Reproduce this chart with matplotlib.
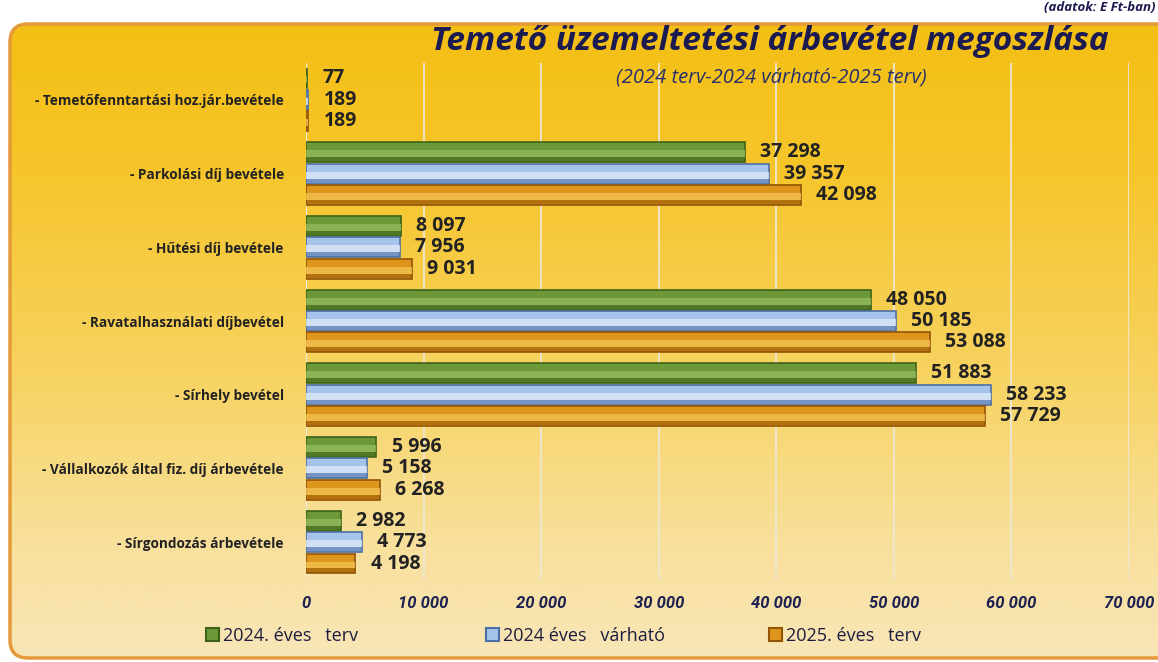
import numpy as np
import matplotlib
matplotlib.use("Agg")
import matplotlib.pyplot as plt
from matplotlib.patches import FancyBboxPatch, Patch
from matplotlib.colors import LinearSegmentedColormap

categories = [
    "- Temetőfenntartási hoz.jár.bevétele",
    "- Parkolási díj bevétele",
    "- Hűtési díj bevétele",
    "- Ravatalhasználati díjbevétel",
    "- Sírhely bevétel",
    "- Vállalkozók által fiz. díj árbevétele",
    "- Sírgondozás árbevétele",
]
series_names = ["2024. éves   terv", "2024 éves   várható", "2025. éves   terv"]
plan_2024 = [77, 37298, 8097, 48050, 51883, 5996, 2982]
expected_2024 = [189, 39357, 7956, 50185, 58233, 5158, 4773]
plan_2025 = [189, 42098, 9031, 53088, 57729, 6268, 4198]
x_ticks = [0, 10000, 20000, 30000, 40000, 50000, 60000, 70000]

title = "Temető üzemeltetési árbevétel megoszlása"
subtitle = "(2024 terv-2024 várható-2025 terv)"
note = "(adatok: E Ft-ban)"

FONT = ["Open Sans", "DejaVu Sans"]
TICKFONT = ["Roboto", "DejaVu Sans"]
plt.rcParams["font.family"] = FONT

W, H = 1158, 662
fig = plt.figure(figsize=(W / 100, H / 100), dpi=100)
fig.patch.set_facecolor("white")

# background panel with gradient
bg = fig.add_axes([0, 0, 1, 1])
bg.set_xlim(0, W)
bg.set_ylim(H, 0)
bg.axis("off")
cmap = LinearSegmentedColormap.from_list(
    "bgc", [(0.0, "#F4BE10"), (0.25, "#F6C52A"), (0.55, "#F7D25E"), (0.8, "#F8DF98"), (1.0, "#F8E6B8")]
)
grad = np.linspace(0, 1, 256).reshape(-1, 1)
im = bg.imshow(grad, cmap=cmap, aspect="auto", extent=[0, W, H, 0], zorder=0)
panel = FancyBboxPatch((10, 24), 1180, 634, boxstyle="round,pad=0,rounding_size=18",
                       fc="none", ec="#E49A3A", lw=2.5, zorder=2)
bg.add_patch(panel)
im.set_clip_path(panel)

# main axes
top, bottom = 63, 579
left, right = 306, 1129
ax = fig.add_axes([left / W, (H - bottom) / H, (right - left) / W, (bottom - top) / H])
ax.set_facecolor("none")

n = len(categories)
y = np.arange(n)
off = 0.29
h = 0.27
specs = [
    (plan_2024, -off, "#3E6218", "#6C9838", "#93BA5E"),
    (expected_2024, 0.0, "#4C6FA6", "#A6C3EA", "#DCE8F8"),
    (plan_2025, off, "#935406", "#DE951C", "#F3C253"),
]
for vals, o, dark, mid, light in specs:
    ax.barh(y + o, vals, height=h, color=mid, edgecolor=dark, linewidth=1.2, zorder=3)
    ax.barh(y + o + 0.02, vals, height=h * 0.35, color=light, linewidth=0, zorder=4, alpha=0.8)
    ax.barh(y + o + h * 0.36, vals, height=h * 0.22, color=dark, linewidth=0, zorder=4, alpha=0.55)
    for yi, v in zip(y + o, vals):
        ax.annotate(f"{v:,}".replace(",", " "), xy=(v, yi), xytext=(11, 0),
                    textcoords="offset points", va="center", ha="left",
                    fontsize=14, fontweight="bold", color="#222222", zorder=5,
                    family=FONT)

ax.set_xlim(0, 70000)
ax.set_ylim(n - 0.5, -0.5)
ax.set_xticks(x_ticks)
ax.set_xticklabels([f"{t:,}".replace(",", " ") for t in x_ticks],
                   fontsize=12, fontweight="bold", fontstyle="italic", color="#1C2152",
                   family=TICKFONT)
ax.set_yticks(y)
ax.set_yticklabels(categories, fontsize=9.8, fontweight="bold", color="#222222")
ax.tick_params(axis="both", length=0)
ax.tick_params(axis="y", pad=16)
ax.tick_params(axis="x", pad=12)
for s in ax.spines.values():
    s.set_visible(False)
ax.set_axisbelow(True)
ax.xaxis.grid(True, color="#EEE6D2", linewidth=1.3)
ax.axvline(0, color="#F2ECDD", linewidth=1.6, zorder=2)

# titles
fig.text(770 / W, 1 - 41 / H, title, ha="center", va="center", fontsize=24,
         fontweight="bold", fontstyle="italic", color="#1B1B52", family=FONT)
fig.text(771 / W, 1 - 78 / H, subtitle, ha="center", va="center", fontsize=14.5,
         fontstyle="italic", color="#26306A", family=FONT)
fig.text(1155 / W, 1 - 1 / H, note, ha="right", va="top", fontsize=9.5,
         fontweight="bold", fontstyle="italic", color="#1B1B52", family=FONT)

# legend: one entry per series placed along the bottom
anchors = [206, 486, 769]
for spec, name, ax_x in zip(specs, series_names, anchors):
    lg = fig.legend([Patch(facecolor=spec[3], edgecolor=spec[2], linewidth=1.5)], [name],
                    loc="center left", bbox_to_anchor=(ax_x / W, 1 - 636 / H),
                    frameon=False, handlelength=0.7, handleheight=0.7, handletextpad=0.25,
                    borderpad=0, borderaxespad=0, prop={"family": FONT, "size": 13})
    for t in lg.get_texts():
        t.set_color("#1C1C40")

fig.savefig("out.png", dpi=100)
